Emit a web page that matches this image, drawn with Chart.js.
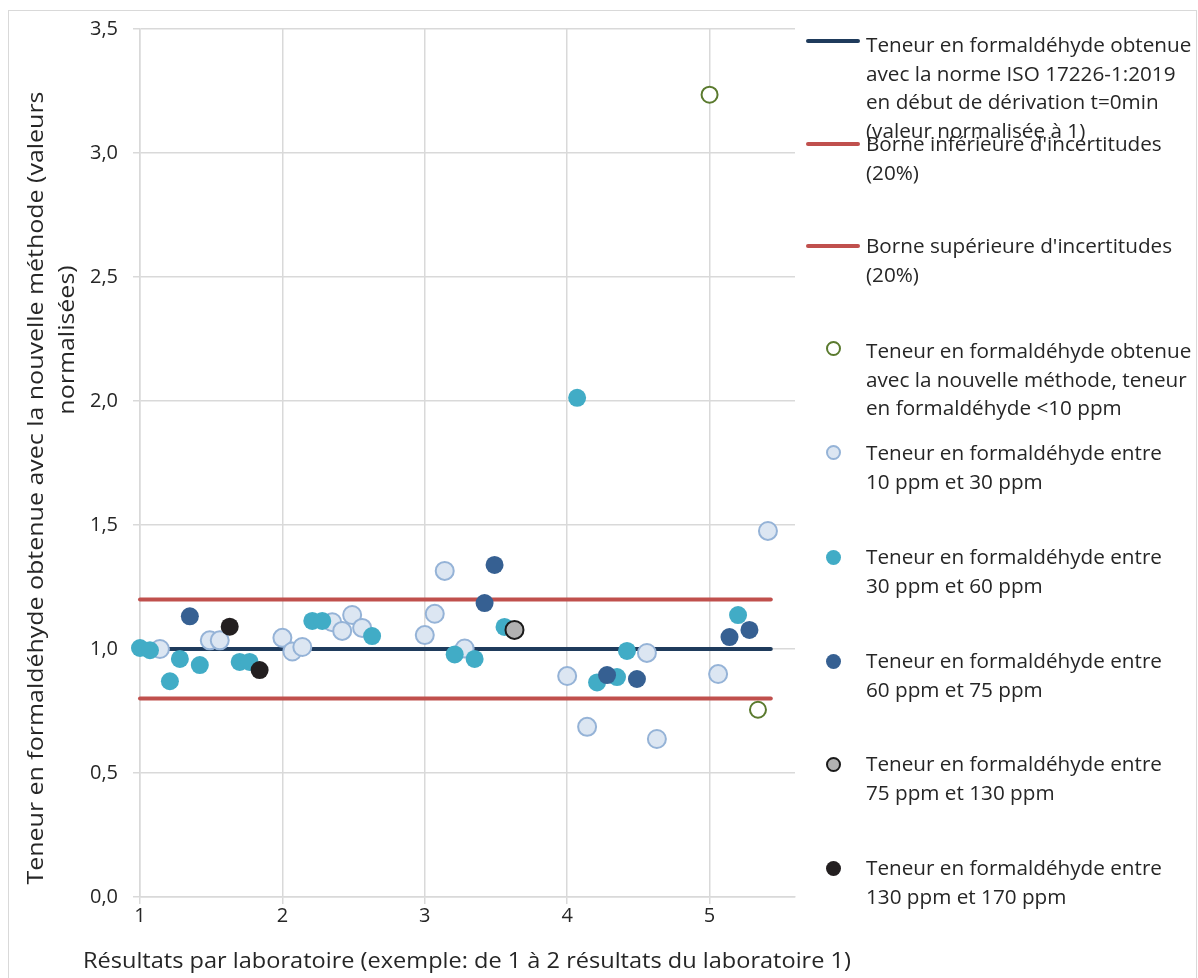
<!DOCTYPE html>
<html>
<head>
<meta charset="utf-8">
<script src="https://cdn.jsdelivr.net/npm/chart.js@4.4.0/dist/chart.umd.min.js"></script>
<style>
  body { margin: 0; background: #fff; font-family: "Open Sans", sans-serif; }
  #wrap { position: relative; width: 1198px; height: 978px; overflow: hidden; }
  #frame { position: absolute; left: 8px; top: 10px; width: 1187px; height: 990px; border: 1px solid #d9d9d9; }
  #chart { position: absolute; left: 0; top: 0; }
  .lg { position: absolute; left: 866px; color: #262626; font-size: 20.7px; line-height: 28.5px; white-space: nowrap; }
  .ln { position: absolute; left: 806px; width: 54px; height: 4px; border-radius: 2px; }
  .mk { position: absolute; width: 15px; height: 15px; border-radius: 50%; box-sizing: border-box; }
</style>
</head>
<body>
<div id="wrap">
  <div id="frame"></div>
  <canvas id="chart" width="1198" height="978"></canvas>

  <div class="ln" style="top:39px;background:#1f3b5c"></div>
  <div class="lg" style="top:30px">Teneur en formaldéhyde obtenue<br>avec la norme ISO 17226-1:2019<br>en début de dérivation t=0min<br>(valeur normalisée à 1)</div>

  <div class="ln" style="top:142px;background:#c0504d"></div>
  <div class="lg" style="top:129px">Borne inférieure d'incertitudes<br>(20%)</div>

  <div class="ln" style="top:244px;background:#c0504d"></div>
  <div class="lg" style="top:231px">Borne supérieure d'incertitudes<br>(20%)</div>

  <div class="mk" style="left:826px;top:341px;border:2px solid #5a7a2e;background:#fff"></div>
  <div class="lg" style="top:336px">Teneur en formaldéhyde obtenue<br>avec la nouvelle méthode, teneur<br>en formaldéhyde &lt;10 ppm</div>

  <div class="mk" style="left:826px;top:445px;border:2px solid #95b3d7;background:#dce6f2"></div>
  <div class="lg" style="top:438px">Teneur en formaldéhyde entre<br>10 ppm et 30 ppm</div>

  <div class="mk" style="left:826px;top:550px;background:#41acc6"></div>
  <div class="lg" style="top:542px">Teneur en formaldéhyde entre<br>30 ppm et 60 ppm</div>

  <div class="mk" style="left:826px;top:654px;background:#366092"></div>
  <div class="lg" style="top:646px">Teneur en formaldéhyde entre<br>60 ppm et 75 ppm</div>

  <div class="mk" style="left:826px;top:757px;border:2px solid #1a1a1a;background:#b1b1b1"></div>
  <div class="lg" style="top:749px">Teneur en formaldéhyde entre<br>75 ppm et 130 ppm</div>

  <div class="mk" style="left:826px;top:861px;background:#231f20"></div>
  <div class="lg" style="top:853px">Teneur en formaldéhyde entre<br>130 ppm et 170 ppm</div>
</div>
<script>
// reference and uncertainty lines
const lineX = [1, 5.43];
const normY = [1, 1];
const lowY = [0.8, 0.8];
const highY = [1.2, 1.2];

// < 10 ppm
const oliveX = [5.0, 5.34];
const oliveY = [3.235, 0.755];
// 10 - 30 ppm
const lightX = [1.14, 1.49, 1.56, 2.0, 2.07, 2.14, 2.35, 2.42, 2.49, 2.56, 3.0, 3.07, 3.14, 3.28, 4.0, 4.14, 4.56, 4.63, 5.06, 5.41];
const lightY = [1.0, 1.035, 1.035, 1.045, 0.99, 1.008, 1.108, 1.073, 1.137, 1.085, 1.056, 1.142, 1.315, 1.002, 0.891, 0.686, 0.984, 0.637, 0.899, 1.476];
// 30 - 60 ppm
const tealX = [1.0, 1.07, 1.21, 1.28, 1.42, 1.70, 1.77, 2.21, 2.28, 2.63, 3.21, 3.35, 3.56, 4.07, 4.21, 4.35, 4.42, 5.20];
const tealY = [1.004, 0.995, 0.870, 0.960, 0.935, 0.948, 0.948, 1.113, 1.113, 1.052, 0.978, 0.960, 1.089, 2.013, 0.865, 0.887, 0.992, 1.137];
// 60 - 75 ppm
const darkX = [1.35, 3.42, 3.49, 4.28, 4.49, 5.14, 5.28];
const darkY = [1.132, 1.185, 1.339, 0.895, 0.879, 1.048, 1.077];
// 75 - 130 ppm
const greyX = [3.63];
const greyY = [1.077];
// 130 - 170 ppm
const blackX = [1.63, 1.84];
const blackY = [1.09, 0.915];

const yTitle1 = 'Teneur en formaldéhyde obtenue avec la nouvelle méthode (valeurs';
const yTitle2 = 'normalisées)';
const xTitle = 'Résultats par laboratoire (exemple: de 1 à 2 résultats du laboratoire 1)';

function pts(xs, ys) {
  return xs.map((x, i) => ({ x: x, y: ys[i] }));
}

function lineSet(ys, color) {
  return {
    type: 'line', data: pts(lineX, ys), borderColor: color, borderWidth: 4,
    borderCapStyle: 'round', pointRadius: 0, order: 10, clip: false
  };
}

function dotSet(xs, ys, bg, border, bw, r, order) {
  return {
    type: 'scatter', data: pts(xs, ys), backgroundColor: bg, borderColor: border,
    borderWidth: bw, pointRadius: r, pointHoverRadius: r, order: order, clip: false
  };
}

// axis titles drawn by hand so they can be sized like the original
const titlesPlugin = {
  id: 'titles',
  afterDraw(chart) {
    const ctx = chart.ctx;
    ctx.save();
    ctx.font = '22px "Open Sans"';
    const k = 793 / ctx.measureText(yTitle1).width;
    ctx.restore();
    [[yTitle1, 37, 488], [yTitle2, 68, 340]].forEach(([txt, x, y]) => {
      ctx.save();
      ctx.fillStyle = '#262626';
      ctx.font = '22px "Open Sans"';
      ctx.textAlign = 'center';
      ctx.textBaseline = 'middle';
      ctx.translate(x, y);
      ctx.rotate(-Math.PI / 2);
      ctx.scale(k, 1);
      ctx.fillText(txt, 0, 0);
      ctx.restore();
    });
    ctx.save();
    ctx.fillStyle = '#262626';
    ctx.font = '22px "Open Sans"';
    ctx.textAlign = 'center';
    ctx.textBaseline = 'middle';
    const kx = 768 / ctx.measureText(xTitle).width;
    ctx.translate(467, 962);
    ctx.scale(kx, 1);
    ctx.fillText(xTitle, 0, 0);
    ctx.restore();
  }
};

new Chart(document.getElementById('chart'), {
  data: {
    datasets: [
      lineSet(normY, '#1f3b5c'),
      lineSet(lowY, '#c0504d'),
      lineSet(highY, '#c0504d'),
      dotSet(oliveX, oliveY, '#ffffff', '#5a7a2e', 2, 8, 6),
      dotSet(lightX, lightY, '#dce6f2', '#95b3d7', 2, 9, 5),
      dotSet(tealX, tealY, '#41acc6', '#41acc6', 0, 9, 4),
      dotSet(darkX, darkY, '#366092', '#366092', 0, 9, 3),
      dotSet(greyX, greyY, '#b1b1b1', '#1a1a1a', 2, 9, 2),
      dotSet(blackX, blackY, '#231f20', '#231f20', 0, 9, 1)
    ]
  },
  options: {
    responsive: false,
    animation: false,
    layout: { padding: { left: 0, top: 29, right: 403, bottom: 0 } },
    plugins: { legend: { display: false }, tooltip: { enabled: false } },
    scales: {
      x: {
        type: 'linear', min: 1, max: 5.6,
        afterFit: s => { s.height = 81; },
        afterBuildTicks: s => { s.ticks = s.ticks.filter(t => Number.isInteger(t.value)); },
        ticks: { stepSize: 1, color: '#262626', font: { family: 'Open Sans', size: 20 }, padding: 0 },
        grid: { color: '#d9d9d9', lineWidth: 1.5, tickLength: 7 },
        border: { color: '#d9d9d9', width: 1.5 }
      },
      y: {
        min: 0, max: 3.5,
        afterFit: s => { s.width = 140; },
        ticks: {
          stepSize: 0.5, color: '#262626', font: { family: 'Open Sans', size: 20 }, padding: 15,
          callback: v => v.toFixed(1).replace('.', ',')
        },
        grid: { color: '#d9d9d9', lineWidth: 1.5, tickLength: 7 },
        border: { color: '#d9d9d9', width: 1.5 }
      }
    }
  },
  plugins: [titlesPlugin]
});
</script>
</body>
</html>
